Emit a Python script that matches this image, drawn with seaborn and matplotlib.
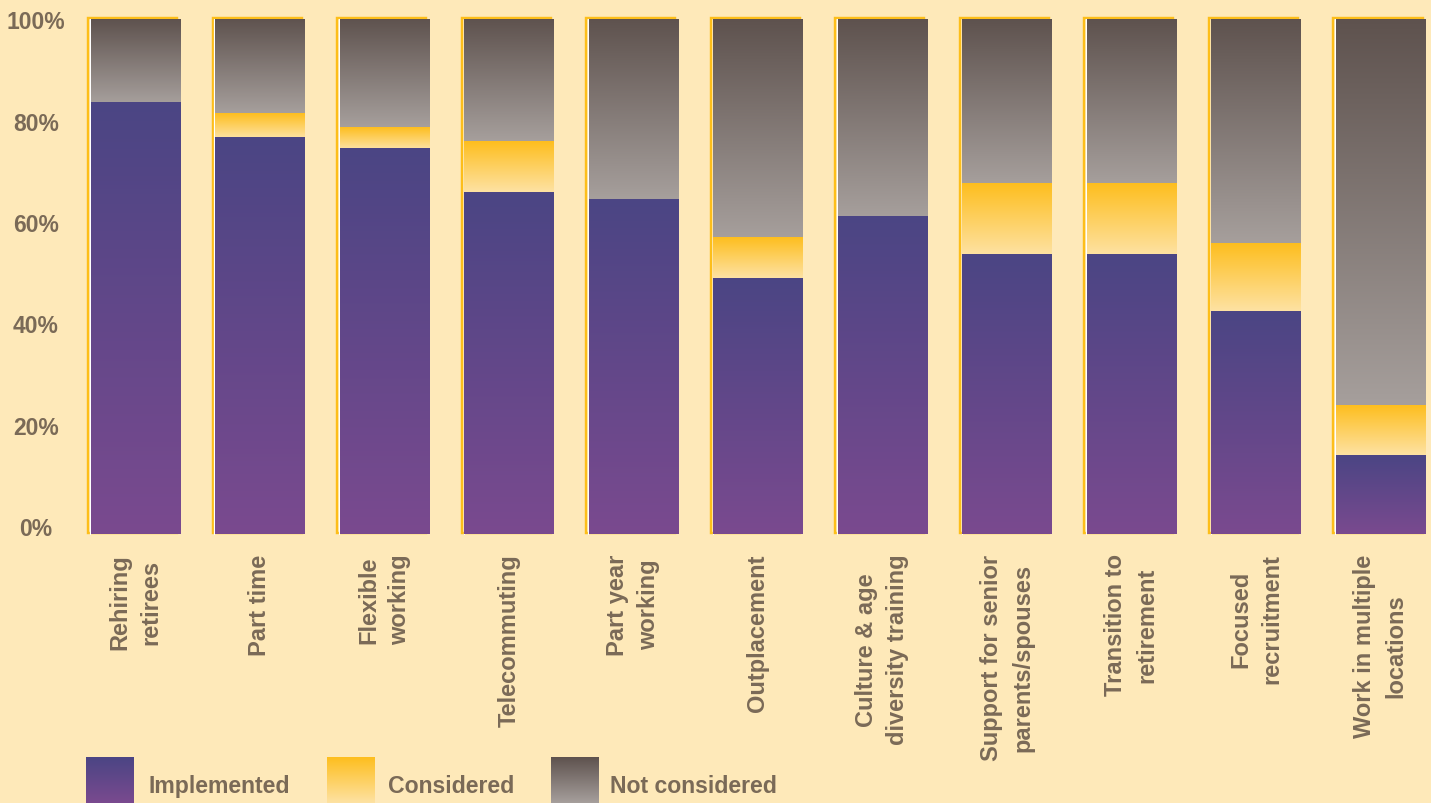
import numpy as np
import pandas as pd
import matplotlib
matplotlib.use("Agg")
import matplotlib.pyplot as plt
import seaborn as sns
from matplotlib.colors import LinearSegmentedColormap
from matplotlib.patches import Rectangle
from matplotlib.lines import Line2D
import matplotlib.transforms as mtransforms

# ---------------- data ----------------
categories = ["Rehiring\nretirees", "Part time", "Flexible\nworking", "Telecommuting",
              "Part year\nworking", "Outplacement", "Culture & age\ndiversity training",
              "Support for senior\nparents/spouses", "Transition to\nretirement",
              "Focused\nrecruitment", "Work in multiple\nlocations"]
implemented = [83.7, 76.9, 74.8, 66.4, 65.0, 49.7, 61.6, 54.2, 54.2, 43.3, 15.3]
considered = [0, 4.8, 4.2, 9.9, 0, 7.8, 0, 13.8, 13.8, 13.2, 9.7]
not_considered = [16.3, 18.3, 21.0, 23.7, 35.0, 42.5, 38.4, 32.0, 32.0, 43.5, 75.0]
series_names = ["Implemented", "Considered", "Not considered"]
yticks = [0, 20, 40, 60, 80, 100]

# ---------------- style ----------------
BG = "#FEE9B9"
TEXT = "#7A6A57"
OUTLINE = "#FDBE1A"
grad = {"Implemented": ("#4B4584", "#7A4A8F"),
        "Considered": ("#FDBE1E", "#FEE2A3"),
        "Not considered": ("#5E524E", "#A69F9C")}
cmaps = {k: LinearSegmentedColormap.from_list(k, list(v)) for k, v in grad.items()}
gradient = np.linspace(0, 1, 256).reshape(-1, 1)

sns.set_theme(style="white")
plt.rcParams['font.family'] = ['Liberation Sans', 'DejaVu Sans']

W, H = 1431, 804
fig = plt.figure(figsize=(W / 100, H / 100), dpi=100, facecolor=BG)
ax = fig.add_axes([73 / W, 269 / H, (W - 73) / W, 515 / H])
ax.set_facecolor(BG)

df = pd.DataFrame({"category": categories, "Implemented": implemented,
                   "Considered": considered, "Not considered": not_considered})
df["c1"] = df["Implemented"]
df["c2"] = df["c1"] + df["Considered"]
df["c3"] = df["c2"] + df["Not considered"]

layers = [("Not considered", "c3", "c2"), ("Considered", "c2", "c1"), ("Implemented", "c1", None)]
bar_geom = None
for name, top_col, bot_col in layers:
    n0 = len(ax.patches)
    sns.barplot(data=df, x="category", y=top_col, order=categories, color="#888888",
                width=0.715, ax=ax, errorbar=None, zorder=2)
    new = ax.patches[n0:]
    if bar_geom is None:
        bar_geom = [(p.get_x(), p.get_width()) for p in new]
    for i, p in enumerate(new):
        top = df[top_col].iloc[i]
        bottom = 0 if bot_col is None else df[bot_col].iloc[i]
        p.set_visible(False)
        if top - bottom <= 0:
            continue
        x0, w = p.get_x(), p.get_width()
        ax.imshow(gradient, cmap=cmaps[name], extent=(x0, x0 + w, bottom, top),
                  origin="upper", aspect="auto", interpolation="bicubic", zorder=3)

# decorative offset outline behind each bar
tr_y = mtransforms.offset_copy(ax.transData, fig=fig, x=-2.5, y=1.5, units="dots")
tr_w = mtransforms.offset_copy(ax.transData, fig=fig, x=-0.8, y=0, units="dots")
for x0, w in bar_geom:
    ax.add_patch(Rectangle((x0, 0), w, 100, transform=tr_y, fill=False,
                           edgecolor=OUTLINE, lw=2.4 * 0.72, zorder=1, clip_on=False))
    ax.add_line(Line2D([x0, x0], [0, 100], transform=tr_w, color="white",
                       lw=1.2 * 0.72, zorder=1.5, clip_on=False))

ax.set_xlim(-0.5, (W - 135.5) / 124.5)
ax.set_ylim(0, 100)
ax.set_xlabel("")
ax.set_ylabel("")
for s in ax.spines.values():
    s.set_visible(False)

# y tick labels (slightly compressed toward the top, as in the original layout)
ax.set_yticks(yticks)
ax.set_yticklabels([])
ax.tick_params(axis="y", length=0)
blend = mtransforms.blended_transform_factory(ax.transAxes, ax.transData)
for v in yticks:
    dy = (100 - v) / 100 * 8.5 - 3
    tr = blend + mtransforms.ScaledTranslation(0, dy / 100, fig.dpi_scale_trans)
    ax.text(-37 / (W - 73), v, f"{v}%", transform=tr, ha="center", va="center",
            fontsize=16.5, fontweight="bold", color=TEXT, clip_on=False)

ax.tick_params(axis="x", length=0, pad=14, labelsize=17, labelcolor=TEXT)
for lab in ax.get_xticklabels():
    lab.set_rotation(90)
    lab.set_ha("center")
    lab.set_va("top")
    lab.set_multialignment("center")
    lab.set_linespacing(1.45)
    lab.set_fontweight("bold")
ax.grid(False)

# ---------------- legend ----------------
lax = fig.add_axes([0, 0, 1, 1], facecolor="none")
lax.axis("off")
leg_patch_x = [86, 327, 551]
leg_text_x = [148, 388, 610]
for name, px, tx in zip(series_names, leg_patch_x, leg_text_x):
    lax.imshow(gradient, cmap=cmaps[name], extent=(px, px + 48, H, 758),
               origin="upper", aspect="auto", interpolation="bicubic")
    lax.text(tx, 793, name, color=TEXT, fontsize=16.6, fontweight="bold",
             ha="left", va="baseline")
lax.set_xlim(0, W)
lax.set_ylim(H, 0)

fig.savefig("out.png", dpi=100, facecolor=BG)
